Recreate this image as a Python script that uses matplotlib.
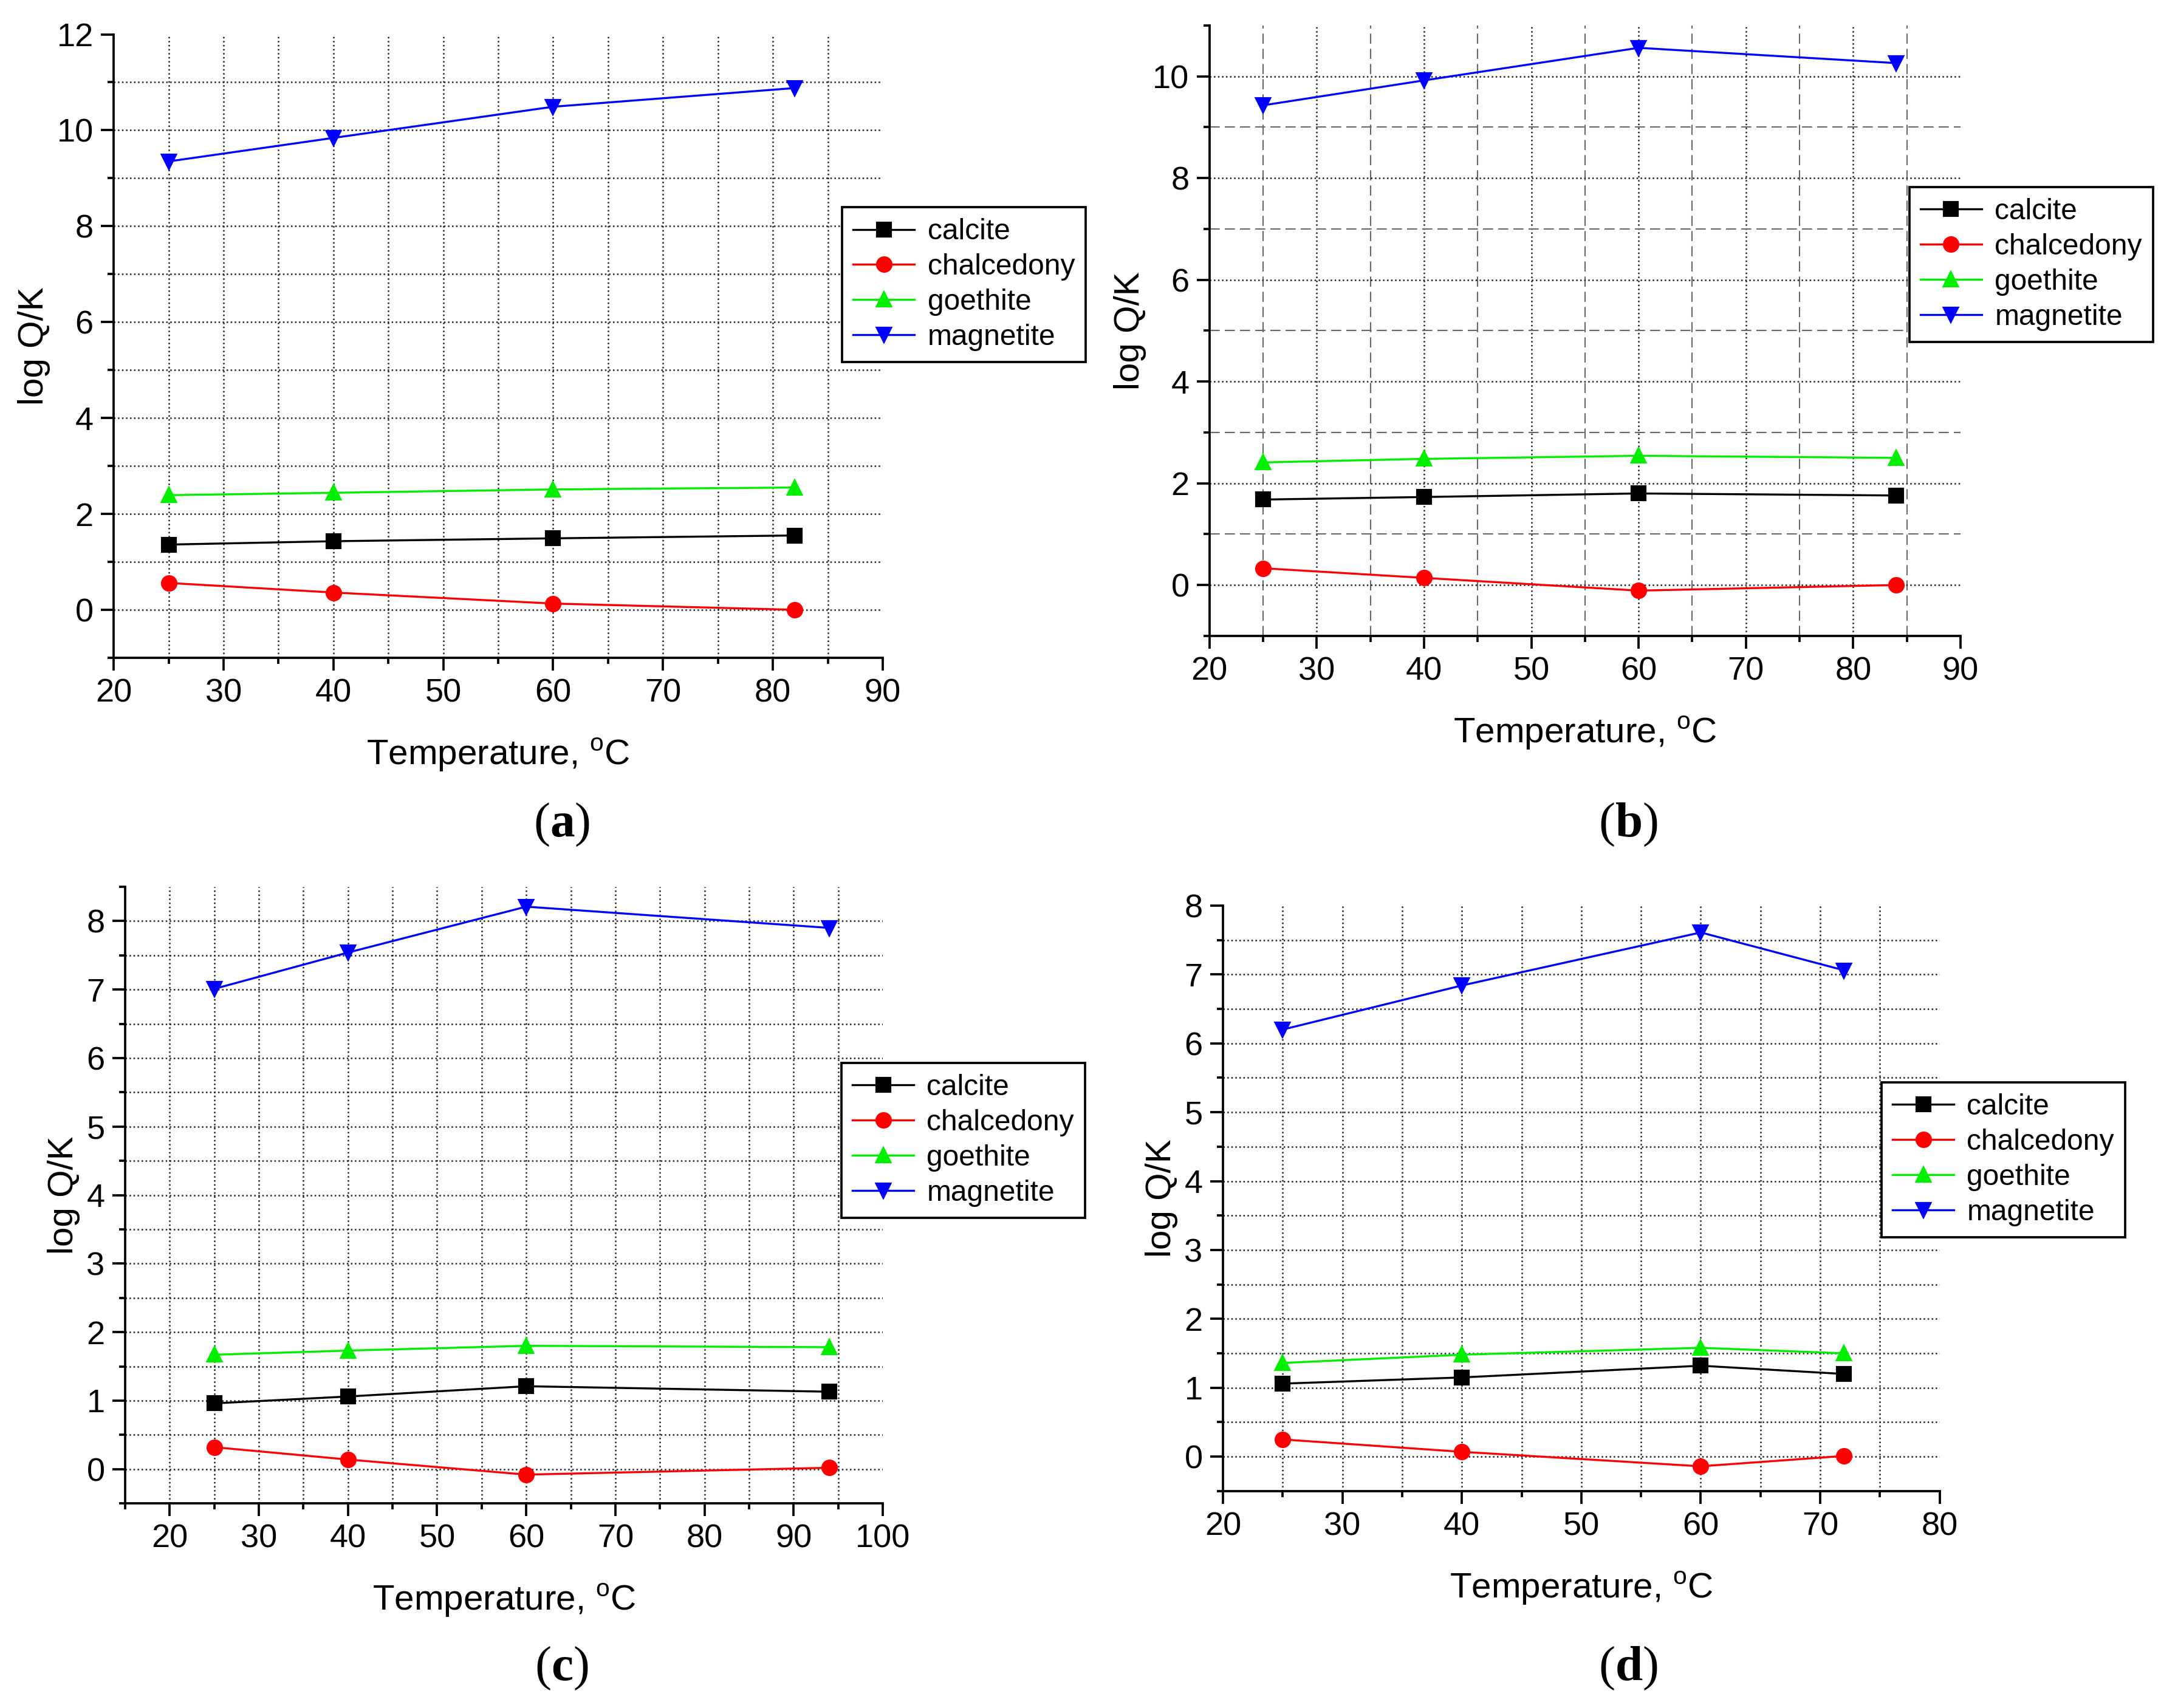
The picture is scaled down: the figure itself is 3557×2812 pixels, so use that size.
import matplotlib
matplotlib.use("Agg")
import matplotlib.pyplot as plt
from matplotlib.ticker import MultipleLocator

plt.rcParams['font.family'] = ['Liberation Sans', 'DejaVu Sans']
plt.rcParams['mathtext.fontset'] = 'custom'
plt.rcParams['mathtext.rm'] = 'Liberation Sans'
plt.rcParams['mathtext.bf'] = 'Liberation Serif:bold'

minerals = ['calcite', 'chalcedony', 'goethite', 'magnetite']
colors = ['#000000', '#ff0000', '#00f000', '#0000ff']
markers = ['s', 'o', '^', 'v']

# (a)
temp_a = [25, 40, 60, 82]
calcite_a = [1.36, 1.43, 1.49, 1.55]
chalcedony_a = [0.56, 0.36, 0.13, 0.0]
goethite_a = [2.39, 2.44, 2.51, 2.55]
magnetite_a = [9.35, 9.84, 10.49, 10.88]

# (b)
temp_b = [25, 40, 60, 84]
calcite_b = [1.68, 1.73, 1.80, 1.76]
chalcedony_b = [0.33, 0.14, -0.11, 0.0]
goethite_b = [2.41, 2.48, 2.54, 2.50]
magnetite_b = [9.43, 9.92, 10.56, 10.26]

# (c)
temp_c = [25, 40, 60, 94]
calcite_c = [0.96, 1.06, 1.21, 1.13]
chalcedony_c = [0.32, 0.14, -0.08, 0.02]
goethite_c = [1.67, 1.73, 1.80, 1.78]
magnetite_c = [7.01, 7.54, 8.21, 7.90]

# (d)
temp_d = [25, 40, 60, 72]
calcite_d = [1.06, 1.15, 1.32, 1.20]
chalcedony_d = [0.25, 0.07, -0.14, 0.01]
goethite_d = [1.36, 1.48, 1.58, 1.50]
magnetite_d = [6.20, 6.84, 7.61, 7.06]

panels = [
    dict(tag='a', x=temp_a, ys=[calcite_a, chalcedony_a, goethite_a, magnetite_a],
         xlim=(20, 90), ylim=(-1, 12), ymaj=2, ymin=1,
         rect=[0.0526, 0.6149, 0.3559, 0.3650], leg=(0.3897, 0.8787), cap=(0.2598, 0.5171)),
    dict(tag='b', x=temp_b, ys=[calcite_b, chalcedony_b, goethite_b, magnetite_b],
         xlim=(20, 90), ylim=(-1, 11), ymaj=2, ymin=1,
         rect=[0.5597, 0.6277, 0.3475, 0.3574], leg=(0.8836, 0.8905), cap=(0.7534, 0.5171)),
    dict(tag='c', x=temp_c, ys=[calcite_c, chalcedony_c, goethite_c, magnetite_c],
         xlim=(15, 100), ylim=(-0.5, 8.5), ymaj=1, ymin=0.5,
         rect=[0.0579, 0.1198, 0.3506, 0.3610], leg=(0.3894, 0.3777), cap=(0.2598, 0.0231)),
    dict(tag='d', x=temp_d, ys=[calcite_d, chalcedony_d, goethite_d, magnetite_d],
         xlim=(20, 80), ylim=(-0.5, 8), ymaj=1, ymin=0.5,
         rect=[0.5659, 0.1270, 0.3317, 0.3428], leg=(0.8707, 0.3663), cap=(0.7534, 0.0231)),
]


def hide_edge_grid(axis, lo, hi):
    # no grid line on the axis limits, as in the original
    mlocs = axis.get_majorticklocs()
    for loc, t in zip(mlocs, axis.get_major_ticks(len(mlocs))):
        if abs(loc - hi) < 1e-9 or abs(loc - lo) < 1e-9:
            t.gridline.set_visible(False)
    nlocs = axis.get_minorticklocs()
    for loc, t in zip(nlocs, axis.get_minor_ticks(len(nlocs))):
        if abs(loc - hi) < 1e-9 or abs(loc - lo) < 1e-9:
            t.gridline.set_visible(False)


fig = plt.figure(figsize=(3557 / 300, 2812 / 300), dpi=300)

for p in panels:
    ax = fig.add_axes(p['rect'])
    for name, y, c, m in zip(minerals, p['ys'], colors, markers):
        ax.plot(p['x'], y, color=c, marker=m, markersize=5.5, linewidth=0.8,
                label=name, clip_on=False, zorder=3)
    ax.set_xlim(*p['xlim'])
    ax.set_ylim(*p['ylim'])
    ax.xaxis.set_major_locator(MultipleLocator(10))
    ax.xaxis.set_minor_locator(MultipleLocator(5))
    ax.yaxis.set_major_locator(MultipleLocator(p['ymaj']))
    ax.yaxis.set_minor_locator(MultipleLocator(p['ymin']))

    for s in ('top', 'right'):
        ax.spines[s].set_visible(False)
    for s in ('left', 'bottom'):
        ax.spines[s].set_linewidth(0.9)
    ax.tick_params(which='major', direction='out', length=5, width=0.9,
                   labelsize=13, pad=3)
    ax.tick_params(which='minor', direction='out', length=2.5, width=0.9)

    if p['tag'] == 'b':
        ax.grid(which='major', linestyle=':', color='#222222', linewidth=0.6)
        ax.grid(which='minor', linestyle=(0, (8, 4)), color='#666666', linewidth=0.5)
    else:
        ax.grid(which='both', linestyle=':', color='#222222', linewidth=0.6)
    ax.set_axisbelow(True)
    hide_edge_grid(ax.xaxis, *p['xlim'])
    hide_edge_grid(ax.yaxis, *p['ylim'])

    ax.set_xlabel(r'Temperature, $^{\rm o}$C', fontsize=14, labelpad=11)
    ax.set_ylabel('log Q/K', fontsize=14, labelpad=2.5)

    leg = ax.legend(loc='upper left', bbox_to_anchor=p['leg'], bbox_transform=fig.transFigure,
                    borderaxespad=0, fontsize=11.5, frameon=True, fancybox=False,
                    edgecolor='black', framealpha=1, handlelength=2.1, handletextpad=0.45,
                    labelspacing=0.27, borderpad=0.38)
    leg.get_frame().set_linewidth(0.9)

    fig.text(p['cap'][0], p['cap'][1], r'($\mathbf{%s}$)' % p['tag'],
             family='Liberation Serif', fontsize=19.5, ha='center', va='center')

fig.savefig('out.png', dpi=300)
